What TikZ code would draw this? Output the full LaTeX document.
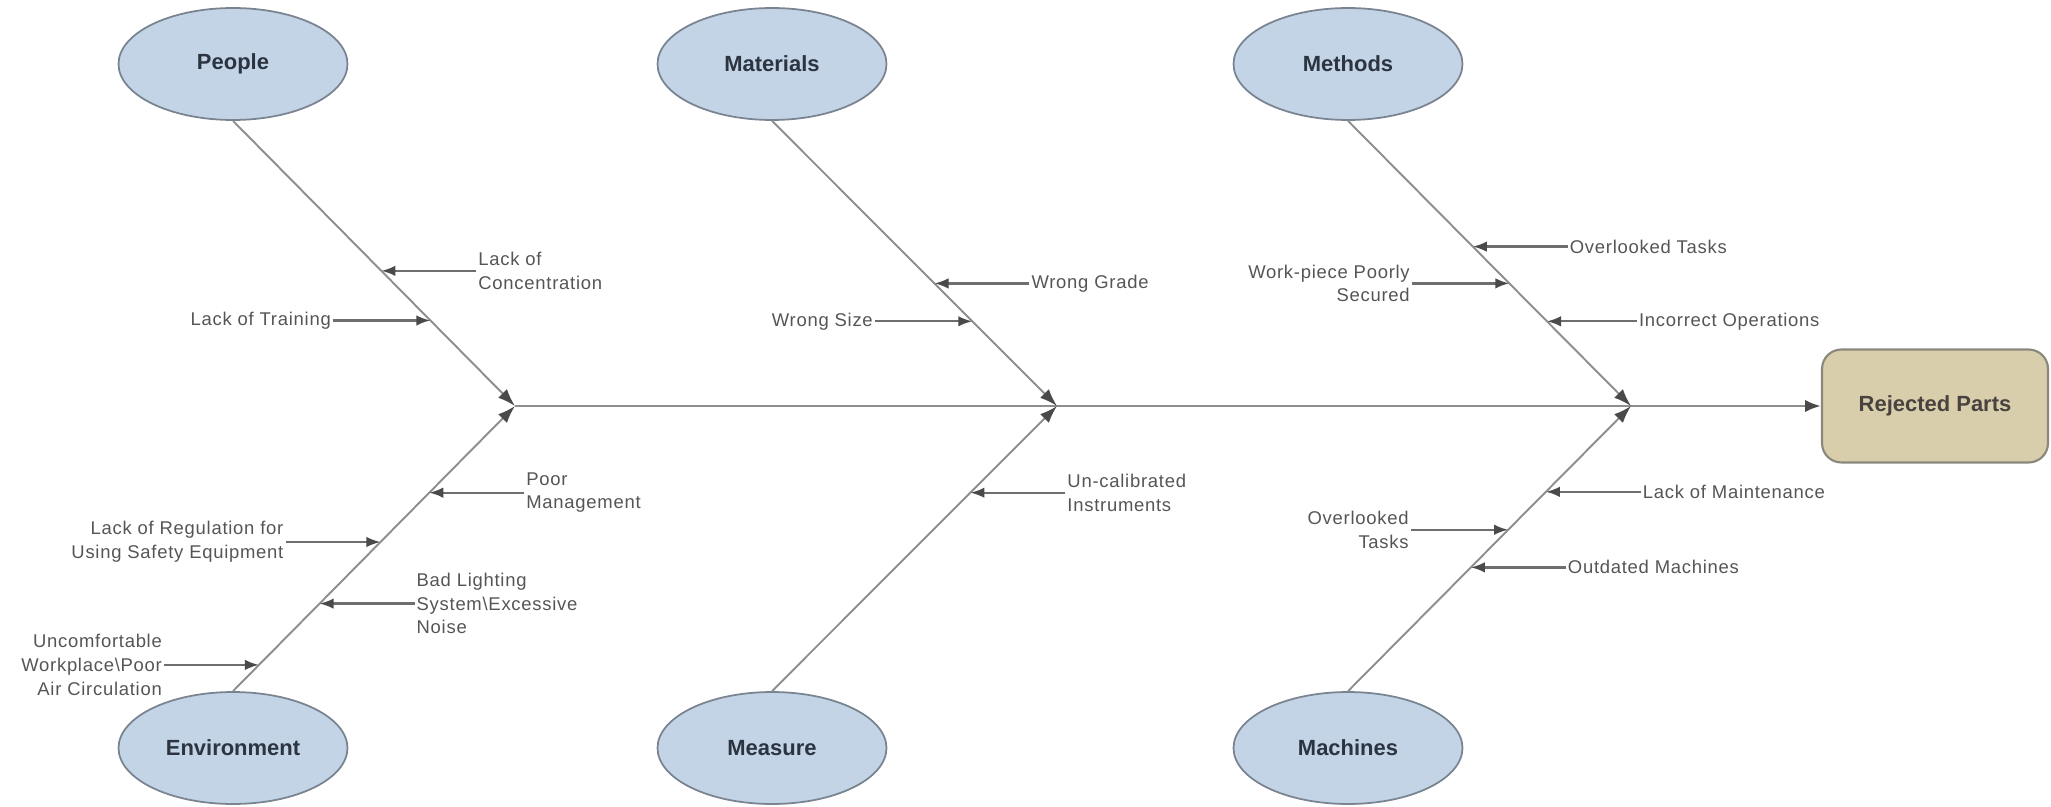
\documentclass[tikz,border=0pt]{standalone}
\usepackage{fontspec}
\setmainfont{Liberation Sans}
\newfontfamily\causefont[LetterSpace=4]{Liberation Sans}
\usetikzlibrary{shapes.geometric,positioning,calc,arrows.meta}

\definecolor{bonegray}{HTML}{8E8E8E}
\definecolor{causegray}{HTML}{6E6E6E}
\definecolor{tipgray}{HTML}{4A4A4A}
\definecolor{catblue}{HTML}{C3D4E6}
\definecolor{catline}{HTML}{7A8490}
\definecolor{effecttan}{HTML}{D8CEAB}
\definecolor{effectline}{HTML}{8A877C}
\definecolor{labeltext}{HTML}{2B3440}
\definecolor{causetext}{HTML}{555555}

\tikzstyle{category} = [ellipse, draw=catline, line width=1pt, fill=catblue, minimum width=4.58cm, minimum height=2.24cm, text=labeltext, font=\fontsize{12.5}{15}\selectfont\bfseries]
\tikzstyle{effect} = [rectangle, rounded corners=11pt, draw=effectline, line width=1.2pt, fill=effecttan, minimum width=4.52cm, minimum height=2.26cm, text=labeltext!80!brown, font=\fontsize{12.5}{15}\selectfont\bfseries]
\tikzstyle{bone} = [draw=bonegray, line width=1.1pt, -{Latex[length=10pt,width=7pt,color=tipgray]}]
\tikzstyle{spine} = [draw=bonegray, line width=1.6pt, -{Latex[length=9pt,width=7pt,color=tipgray]}]
\tikzstyle{cause} = [draw=causegray, line width=1.3pt, -{Latex[length=8pt,width=6pt,color=tipgray]}]
\tikzstyle{reasonR} = [inner sep=1pt, align=left, text=causetext, font=\causefont\fontsize{10.5}{13.5}\selectfont]
\tikzstyle{reasonL} = [inner sep=1pt, align=right, text=causetext, font=\causefont\fontsize{10.5}{13.5}\selectfont]

\begin{document}
\begin{tikzpicture}[x=0.02cm, y=-0.02cm, node distance=1.9cm]
    \useasboundingbox (0,0) rectangle (2051,807);

    % categories and effect
    \node[category] (people) at (233,64) {People};
    \node[category] (materials) at (772,64) {Materials};
    \node[category] (methods) at (1348,64) {Methods};
    \node[category] (environment) at (233,748) {Environment};
    \node[category] (measure) at (772,748) {Measure};
    \node[category] (machines) at (1348,748) {Machines};
    \node[effect] (rejected) at (1935,406) {Rejected Parts};

    % spine and bones
    \coordinate (j1) at (515,406);
    \coordinate (j2) at (1057,406);
    \coordinate (j3) at (1631,406);
    \draw[spine] (j1) -- (rejected);
    \draw[bone] (people.south) -- (j1);
    \draw[bone] (environment.north) -- (j1);
    \draw[bone] (materials.south) -- (j2);
    \draw[bone] (measure.north) -- (j2);
    \draw[bone] (methods.south) -- (j3);
    \draw[bone] (machines.north) -- (j3);

    % people
    \coordinate (pe1) at ($(people.south)!0.526!(j1)$);
    \coordinate (pe2) at ($(people.south)!0.700!(j1)$);
    \node[reasonR, right=of pe1] (concentration) {Lack of\\Concentration};
    \node[reasonL, left=1.95cm of pe2] (training) {Lack of Training};
    \draw[cause] (concentration) -- (pe1);
    \draw[cause] (training) -- (pe2);

    % environment
    \coordinate (en1) at ($(environment.north)!0.092!(j1)$);
    \coordinate (en2) at ($(environment.north)!0.307!(j1)$);
    \coordinate (en3) at ($(environment.north)!0.523!(j1)$);
    \coordinate (en4) at ($(environment.north)!0.696!(j1)$);
    \node[reasonL, left=of en1] (workplace) {Uncomfortable\\Workplace\textbackslash Poor\\Air Circulation};
    \node[reasonR, right=of en2] (lighting) {Bad Lighting\\System\textbackslash Excessive\\Noise};
    \node[reasonL, left=of en3] (regulation) {Lack of Regulation for\\Using Safety Equipment};
    \node[reasonR, right=of en4] (management) {Poor\\Management};
    \draw[cause] (workplace) -- (en1);
    \draw[cause] (lighting) -- (en2);
    \draw[cause] (regulation) -- (en3);
    \draw[cause] (management) -- (en4);

    % materials
    \coordinate (ma1) at ($(materials.south)!0.570!(j2)$);
    \coordinate (ma2) at ($(materials.south)!0.703!(j2)$);
    \node[reasonR, right=of ma1] (grade) {Wrong Grade};
    \node[reasonL, left=1.95cm of ma2] (size) {Wrong Size};
    \draw[cause] (grade) -- (ma1);
    \draw[cause] (size) -- (ma2);

    % measure
    \coordinate (me1) at ($(measure.north)!0.696!(j2)$);
    \node[reasonR, right=of me1] (instruments) {Un-calibrated\\Instruments};
    \draw[cause] (instruments) -- (me1);

    % methods
    \coordinate (mt1) at ($(methods.south)!0.441!(j3)$);
    \coordinate (mt2) at ($(methods.south)!0.570!(j3)$);
    \coordinate (mt3) at ($(methods.south)!0.703!(j3)$);
    \node[reasonR, right=of mt1] (overlooked) {Overlooked Tasks};
    \node[reasonL, left=1.95cm of mt2] (workpiece) {Work-piece Poorly\\Secured};
    \node[reasonR, right=1.8cm of mt3] (operations) {Incorrect Operations};
    \draw[cause] (overlooked) -- (mt1);
    \draw[cause] (workpiece) -- (mt2);
    \draw[cause] (operations) -- (mt3);

    % machines
    \coordinate (mc1) at ($(machines.north)!0.699!(j3)$);
    \coordinate (mc2) at ($(machines.north)!0.566!(j3)$);
    \coordinate (mc3) at ($(machines.north)!0.434!(j3)$);
    \node[reasonR, right=of mc1] (maintenance) {Lack of Maintenance};
    \node[reasonL, left=1.95cm of mc2] (tasks) {Overlooked\\Tasks};
    \node[reasonR, right=of mc3] (outdated) {Outdated Machines};
    \draw[cause] (maintenance) -- (mc1);
    \draw[cause] (tasks) -- (mc2);
    \draw[cause] (outdated) -- (mc3);
\end{tikzpicture}
\end{document}
